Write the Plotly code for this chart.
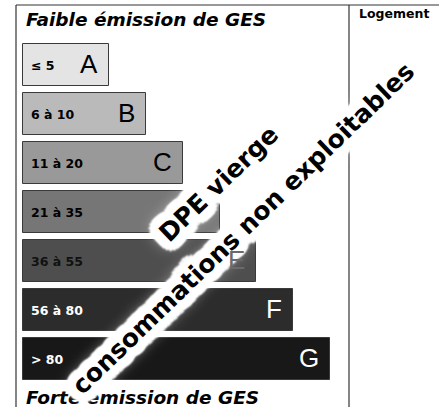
import math
import plotly.graph_objects as go

classes = ["A", "B", "C", "D", "E", "F", "G"]
ranges = ["≤ 5", "6 à 10", "11 à 20", "21 à 35", "36 à 55", "56 à 80", "> 80"]
bar_widths = [86, 123, 160, 197, 233, 270, 307]
bar_colors = ["#e4e4e4", "#bababa", "#999999", "#767676", "#4e4e4e", "#2c2c2c", "#181818"]
letter_colors = ["#000000", "#000000", "#000000", "#ffffff", "#6a6a6a", "#ffffff", "#ffffff"]
range_colors = ["#000000", "#000000", "#000000", "#000000", "#111111", "#ffffff", "#ffffff"]
# letters drawn above the watermark halo (visible through it in the reference)
letters_on_top = ["E"]

top_title = "Faible émission de GES"
bottom_title = "Forte émission de GES"
side_title = "Logement"
watermark1 = "DPE vierge"
watermark2 = "consommations non exploitables"

W, H = 439, 407

fig = go.Figure()
fig.add_trace(go.Bar(
    y=classes, x=bar_widths, base=0, orientation="h",
    marker=dict(color=bar_colors, line=dict(color="#3a3a3a", width=1)),
    width=0.86, hoverinfo="skip",
))

ann = []
late = []
for c, r, col, w, lc in zip(classes, ranges, range_colors, bar_widths, letter_colors):
    ann.append(dict(x=0, y=c, xref="x", yref="y", text=r, showarrow=False,
                    xanchor="left", xshift=6,
                    font=dict(family="DejaVu Sans", size=12.5, color=col, weight="bold")))
    letter = dict(x=w, y=c, xref="x", yref="y", text=c, showarrow=False,
                  xanchor="right", xshift=-9, yshift=1,
                  font=dict(family="Liberation Sans, Arial", size=26, color=lc))
    (late if c in letters_on_top else ann).append(letter)


def px(x, y):
    return x / W, 1 - y / H


for txt, x, y, size, style in [
    (top_title, 24, 19, 18.5, "italic"),
    (bottom_title, 24, 397, 18.5, "italic"),
    (side_title, 357, 14, 12.5, "normal"),
]:
    xx, yy = px(x, y)
    ann.append(dict(x=xx, y=yy, xref="paper", yref="paper", text=txt, showarrow=False,
                    xanchor="left", yanchor="middle",
                    font=dict(family="DejaVu Sans", size=size, color="#000",
                              weight="bold", style=style)))

parts = []
for r in (2, 4, 6, 8, 10):
    for k in range(16):
        a = 2 * math.pi * k / 16
        parts.append(f"{r * math.cos(a):.1f}px {r * math.sin(a):.1f}px 2px #fff")
for b in (6, 10, 14, 18, 22):
    parts.append(f"0 0 {b}px #fff")
halo = ", ".join(parts)

for txt, cx, cy in [(watermark1, 219, 184), (watermark2, 243, 228)]:
    xx, yy = px(cx, cy)
    ann.append(dict(x=xx, y=yy, xref="paper", yref="paper",
                    text=txt, showarrow=False, textangle=-44,
                    xanchor="center", yanchor="middle",
                    font=dict(family="DejaVu Sans", size=25, color="#000",
                              weight="bold", shadow=halo)))
ann += late

shapes = [
    dict(type="line", xref="paper", yref="paper", x0=16 / W, x1=1, y0=1 - 5 / H, y1=1 - 5 / H,
         line=dict(color="#333", width=1.2)),
    dict(type="line", xref="paper", yref="paper", x0=16 / W, x1=16 / W, y0=0, y1=1 - 5 / H,
         line=dict(color="#333", width=1.2)),
    dict(type="line", xref="paper", yref="paper", x0=349 / W, x1=349 / W, y0=0, y1=1 - 5 / H,
         line=dict(color="#333", width=1.2)),
]

fig.update_layout(
    width=W, height=H, margin=dict(l=0, r=0, t=0, b=0),
    paper_bgcolor="#ffffff", plot_bgcolor="#ffffff",
    showlegend=False, annotations=ann, shapes=shapes,
    xaxis=dict(range=[-23, W - 23], visible=False, fixedrange=True),
    yaxis=dict(range=[(H - 65) / 49, -65 / 49], visible=False, type="category",
               categoryorder="array", categoryarray=classes, fixedrange=True),
    bargap=0,
)
fig.write_html("out.html", config={"displayModeBar": False},
               post_script="document.body.style.margin='0';document.body.style.overflow='hidden';")
